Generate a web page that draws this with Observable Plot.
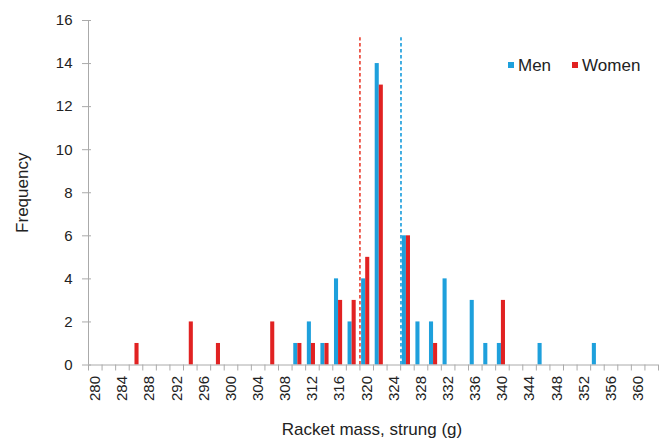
<!DOCTYPE html>
<html>
<head>
<meta charset="utf-8">
<script src="https://cdn.jsdelivr.net/npm/d3@7"></script>
<script src="https://cdn.jsdelivr.net/npm/@observablehq/plot@0.6"></script>
<style>
  html, body { margin: 0; padding: 0; background: #fff; }
  #wrap { position: relative; width: 665px; height: 444px; font-family: "Liberation Sans", Arial, sans-serif; }
  #legend { position: absolute; left: 508px; top: 56.5px; font-size: 17px; line-height: 17px; color: #222; display: flex; align-items: center; white-space: nowrap; }
  #legend span.sw { display: inline-block; width: 6px; height: 6px; margin-right: 4px; }
  #legend span.lab { margin-right: 21px; }
</style>
</head>
<body>
<div id="wrap">
  <div id="chart"></div>
  <div id="legend">
    <span class="sw" style="background:#1ea0dc"></span><span class="lab">Men</span>
    <span class="sw" style="background:#e12222"></span><span class="lab">Women</span>
  </div>
</div>
<script>
// Data
const massMen   = [310, 312, 314, 316, 318, 320, 322, 326, 328, 330, 332, 336, 338, 340, 346, 354];
const freqMen   = [1,   2,   1,   4,   2,   4,   14,  6,   2,   2,   4,   3,   1,   1,   1,   1];
const massWomen = [286, 294, 298, 306, 310, 312, 314, 316, 318, 320, 322, 326, 330, 340];
const freqWomen = [1,   2,   1,   2,   1,   1,   1,   3,   3,   5,   13,  6,   1,   3];
const meanMen = 325.05;
const meanWomen = 319.0;
const meanLineTop = 15.2;
const xTickLabels = [280, 284, 288, 292, 296, 300, 304, 308, 312, 316, 320, 324, 328, 332, 336, 340, 344, 348, 352, 356, 360];
const yTickLabels = [0, 2, 4, 6, 8, 10, 12, 14, 16];

const blue = "#1ea0dc";
const red = "#e12222";

const men = massMen.map((m, i) => ({mass: m, freq: freqMen[i]}));
const women = massWomen.map((m, i) => ({mass: m, freq: freqWomen[i]}));
const catBoundaries = d3.range(279, 364, 2);

const chart = Plot.plot({
  width: 665,
  height: 444,
  marginLeft: 88,
  marginRight: 7,
  marginTop: 20,
  marginBottom: 79.5,
  x: {type: "linear", domain: [279, 363]},
  y: {domain: [0, 16]},
  style: {fontFamily: "Liberation Sans, Arial, sans-serif", fontSize: "15px", color: "#222", background: "white"},
  marks: [
    Plot.axisY(yTickLabels, {tickSize: 6, tickPadding: 10, stroke: "#aaa", fill: "#222", label: null, fontSize: 15}),
    Plot.axisY(yTickLabels, {tickSize: -3, tickFormat: () => "", stroke: "#aaa", label: null}),
    Plot.axisX(catBoundaries, {tickSize: 6, tickFormat: () => "", stroke: "#aaa", label: null}),
    Plot.axisX(xTickLabels, {tickSize: 0, tickPadding: 11, tickRotate: -90, tickFormat: d => String(d), fill: "#222", label: null, fontSize: 15}),
    Plot.rectY(men, {x1: d => d.mass - 0.75, x2: d => d.mass - 0.15, y: "freq", fill: blue}),
    Plot.rectY(women, {x1: d => d.mass - 0.15, x2: d => d.mass + 0.45, y: "freq", fill: red}),
    Plot.ruleX([meanWomen], {y1: 0, y2: meanLineTop, stroke: "#ec5446", strokeWidth: 1.8, strokeDasharray: "3.5,2.5"}),
    Plot.ruleX([meanMen], {y1: 0, y2: meanLineTop, stroke: "#2fa6e0", strokeWidth: 1.8, strokeDasharray: "3.5,2.5"}),
    Plot.ruleX([279], {stroke: "#aaa"}),
    Plot.ruleY([0], {stroke: "#aaa"}),
    Plot.text(["Frequency"], {frameAnchor: "left", textAnchor: "middle", rotate: -90, dx: -66, fontSize: 17, fill: "#222"}),
    Plot.text(["Racket mass, strung (g)"], {frameAnchor: "bottom", textAnchor: "middle", dx: -1.5, dy: 69.5, fontSize: 17, fill: "#222"})
  ]
});
document.getElementById("chart").appendChild(chart);
</script>
</body>
</html>
